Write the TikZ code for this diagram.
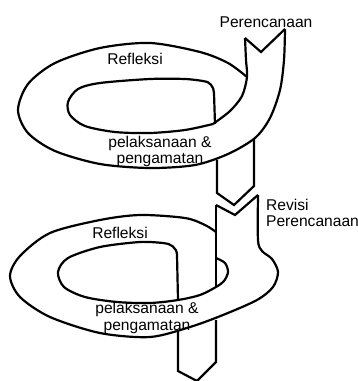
\documentclass[tikz,border=0pt]{standalone}
\usepackage{fontspec}
\setmainfont{Liberation Sans}
\begin{document}
\begin{tikzpicture}[x=1pt, y=-1pt, line width=2.2pt, line join=miter,
    every node/.style={inner sep=0pt, font=\fontsize{15.6}{18}\selectfont}]
  \useasboundingbox (0,0) rectangle (358,381);
  % Upper ring: outer rim, running into the right edge of the band
  \draw plot[smooth] coordinates {(247,77) (228,63) (200,52) (150,43)
    (100,48) (55,63) (28,84) (18,110) (28,133) (55,151) (100,164)
    (150,168) (195,165) (228,154) (255,138) (270,118) (280,90) (284,60)
    (285,29)};
  % Upper ring: notched tail
  \draw (285,29) -- (261,52) -- (245,38);
  % Upper ring: left edge of the band
  \draw plot[smooth] coordinates {(245,38) (246,60) (247,77) (242,96)
    (230,111) (213,124)};
  % Upper ring: inner rim
  \draw plot[smooth] coordinates {(213,124) (185,130) (150,133) (115,132)
    (85,126) (70,115) (68,102) (78,89) (100,83) (150,79) (185,79)
    (203,81)} to[out=0, in=90] (214,93) -- (215,124);
  % Upper stem with arrow head
  \draw (217,160) -- (217,193) -- (234,205) -- (254,186) -- (254,139);
  % Lower ring: notched tail
  \draw (216,205) -- (235,215) -- (258,195);
  % Lower ring: right edge of the band, running into the outer rim
  \draw plot[smooth] coordinates {(258,195) (258,240) (262,251) (272,259)
    (278,272) (273,287) (257,300) (223,315) (190,327) (150,337)
    (100,333) (50,317) (20,297) (10,276) (20,256) (50,233) (100,220)
    (140,215) (185,218) (205,225) (216,232)};
  % Lower ring: left edge of the band
  \draw (216,205) -- (216,287);
  % Lower ring: inner rim
  \draw plot[smooth] coordinates {(216,258) (225,263) (228,272) (224,281)
    (216,287) (200,295) (178,300) (150,303) (117,302) (85,297) (64,287)
    (58,272) (68,258) (100,247) (140,242) (163,243)}
    to[out=0, in=90] (177,255) -- (178,300);
  % Lower stem with arrow head
  \draw (178,331) -- (178,371) -- (197,381) -- (216,362) -- (216,320);
  % Labels
  \node[anchor=base] (plan) at (266,27) {Perencanaan};
  \node[anchor=base] (refl1) at (135,64) {Refleksi};
  \node[anchor=base] (act1) at (160,147) {pelaksanaan \&};
  \node[anchor=base] (obs1) at (160,163) {pengamatan};
  \node[anchor=base west] (rev) at (265,210) {Revisi};
  \node[anchor=base west] (plan2) at (265,226) {Perencanaan};
  \node[anchor=base] (refl2) at (120,238) {Refleksi};
  \node[anchor=base] (act2) at (147,313) {pelaksanaan \&};
  \node[anchor=base] (obs2) at (147,330) {pengamatan};
\end{tikzpicture}
\end{document}
